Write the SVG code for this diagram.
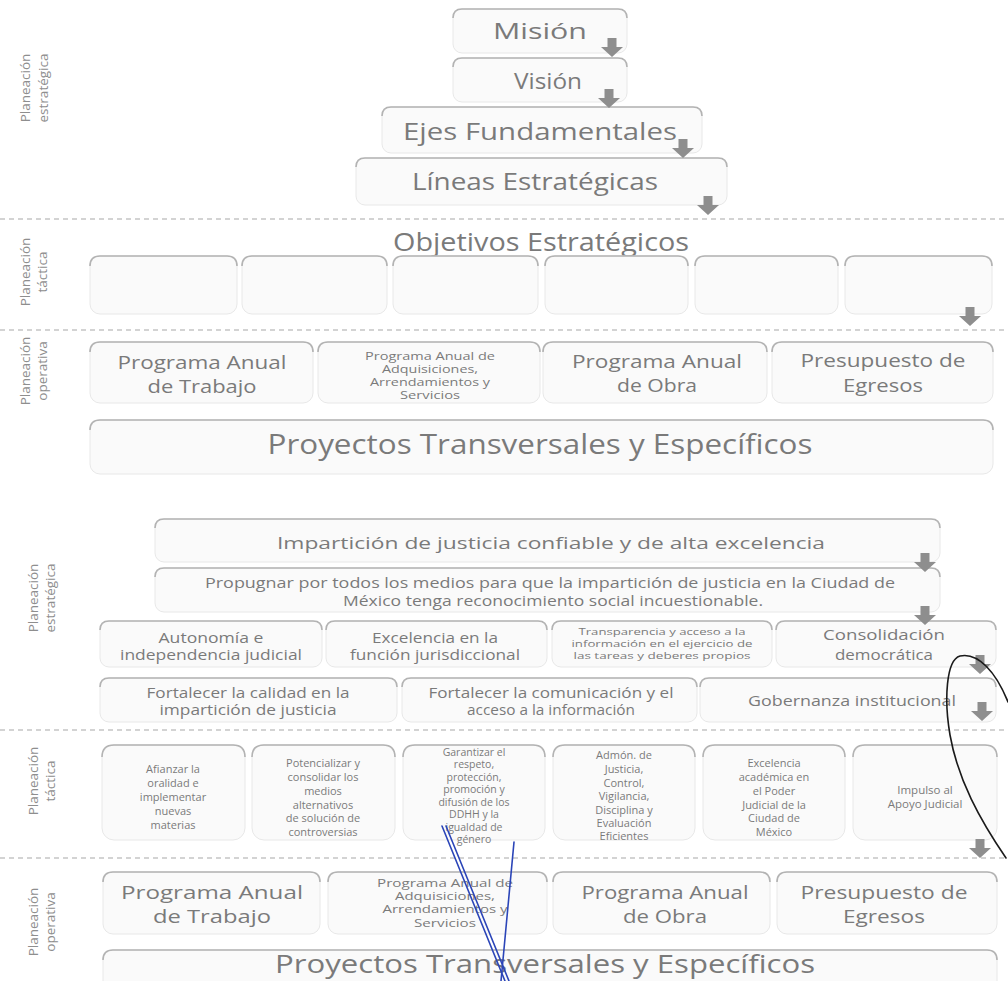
<svg xmlns="http://www.w3.org/2000/svg" xmlns:xlink="http://www.w3.org/1999/xlink" width="1008" height="981" viewBox="0 0 1008 981">
<style>
.bg{fill:#ffffff}
.box{fill:#fafafa;stroke:#e8e8e8;stroke-width:1}
.top{fill:none;stroke:#b3b3b3;stroke-width:1.6}
.t{font-family:"Open Sans","Liberation Sans",sans-serif;fill:#7a7a7a;text-anchor:middle}
.side{font-family:"Open Sans","Liberation Sans",sans-serif;fill:#8e8e8e;text-anchor:middle;font-size:13.5px}
.dash{stroke:#a8a8a8;stroke-width:1.2;stroke-dasharray:5 4;fill:none}
.arrow{fill:#8e8e8e}
.pen-k{fill:none;stroke:#1a1a1a;stroke-width:1.6;stroke-linecap:round}
.pen-b{fill:none;stroke:#2b45b8;stroke-width:1.6;stroke-linecap:round}
</style>
<defs>
<path id="ar" d="M-4.5,0 H4.5 V9 H11 L0,19 L-11,9 H-4.5 Z"/>
</defs>
<rect class="bg" x="0" y="0" width="1008" height="981"/>

<g id="side-labels">
<text class="side" transform="translate(30,88) rotate(-90)" font-size="14.5">Planeación</text>
<text class="side" transform="translate(48,88) rotate(-90)" font-size="14.5">estratégica</text>
<text class="side" transform="translate(30,272) rotate(-90)">Planeación</text>
<text class="side" transform="translate(47,272) rotate(-90)">táctica</text>
<text class="side" transform="translate(30,371) rotate(-90)">Planeación</text>
<text class="side" transform="translate(47,371) rotate(-90)">operativa</text>
<text class="side" transform="translate(38,598) rotate(-90)">Planeación</text>
<text class="side" transform="translate(55,598) rotate(-90)">estratégica</text>
<text class="side" transform="translate(38,781) rotate(-90)">Planeación</text>
<text class="side" transform="translate(55,781) rotate(-90)">táctica</text>
<text class="side" transform="translate(38,922) rotate(-90)">Planeación</text>
<text class="side" transform="translate(55,922) rotate(-90)">operativa</text>
</g>

<g id="separators">
<line class="dash" x1="0" y1="219" x2="1008" y2="219"/>
<line class="dash" x1="0" y1="330" x2="1008" y2="330"/>
<line class="dash" x1="0" y1="730" x2="1008" y2="730"/>
<line class="dash" x1="0" y1="858" x2="1008" y2="858"/>
</g>

<!-- Top section: strategic -->
<g id="mision">
<rect class="box" x="453" y="9" width="174" height="44" rx="9"/>
<path class="top" d="M453,18 Q453,9 462,9 H618 Q627,9 627,18"/>
<text class="t" x="540" y="39" font-size="22" textLength="94" lengthAdjust="spacingAndGlyphs">Misión</text>
</g>
<g id="vision">
<rect class="box" x="453" y="58" width="174" height="44" rx="9"/>
<path class="top" d="M453,67 Q453,58 462,58 H618 Q627,58 627,67"/>
<text class="t" x="548" y="89" font-size="22" textLength="68" lengthAdjust="spacingAndGlyphs">Visión</text>
</g>
<g id="ejes">
<rect class="box" x="382" y="107" width="320" height="46" rx="9"/>
<path class="top" d="M382,116 Q382,107 391,107 H693 Q702,107 702,116"/>
<text class="t" x="540" y="140" font-size="24" textLength="274" lengthAdjust="spacingAndGlyphs">Ejes Fundamentales</text>
</g>
<g id="lineas">
<rect class="box" x="356" y="158" width="371" height="47" rx="9"/>
<path class="top" d="M356,167 Q356,158 365,158 H718 Q727,158 727,167"/>
<text class="t" x="535" y="190" font-size="23" textLength="246" lengthAdjust="spacingAndGlyphs">Líneas Estratégicas</text>
</g>

<!-- Top section: tactical -->
<g id="objetivos-title">
<text class="t" x="541" y="251" font-size="25" textLength="296" lengthAdjust="spacingAndGlyphs">Objetivos Estratégicos</text>
</g>
<g id="obj1"><rect class="box" x="90" y="256" width="147" height="58" rx="10"/><path class="top" d="M90,266 Q90,256 100,256 H227 Q237,256 237,266"/></g>
<g id="obj2"><rect class="box" x="242" y="256" width="145" height="58" rx="10"/><path class="top" d="M242,266 Q242,256 252,256 H377 Q387,256 387,266"/></g>
<g id="obj3"><rect class="box" x="393" y="256" width="145" height="58" rx="10"/><path class="top" d="M393,266 Q393,256 403,256 H528 Q538,256 538,266"/></g>
<g id="obj4"><rect class="box" x="545" y="256" width="143" height="58" rx="10"/><path class="top" d="M545,266 Q545,256 555,256 H678 Q688,256 688,266"/></g>
<g id="obj5"><rect class="box" x="695" y="256" width="143" height="58" rx="10"/><path class="top" d="M695,266 Q695,256 705,256 H828 Q838,256 838,266"/></g>
<g id="obj6"><rect class="box" x="845" y="256" width="147" height="58" rx="10"/><path class="top" d="M845,266 Q845,256 855,256 H982 Q992,256 992,266"/></g>

<!-- Top section: operative -->
<g id="pat1">
<rect class="box" x="90" y="342" width="223" height="61" rx="10"/>
<path class="top" d="M90,352 Q90,342 100,342 H303 Q313,342 313,352"/>
<text class="t" x="202" y="369" font-size="18.5" textLength="169" lengthAdjust="spacingAndGlyphs">Programa Anual</text>
<text class="t" x="202" y="393" font-size="18.5" textLength="109" lengthAdjust="spacingAndGlyphs">de Trabajo</text>
</g>
<g id="paa1">
<rect class="box" x="318" y="342" width="222" height="61" rx="10"/>
<path class="top" d="M318,352 Q318,342 328,342 H530 Q540,342 540,352"/>
<text class="t" x="430" y="360" font-size="10.5" textLength="130" lengthAdjust="spacingAndGlyphs">Programa Anual de</text>
<text class="t" x="430" y="373" font-size="10.5" textLength="96" lengthAdjust="spacingAndGlyphs">Adquisiciones,</text>
<text class="t" x="430" y="386" font-size="10.5" textLength="120" lengthAdjust="spacingAndGlyphs">Arrendamientos y</text>
<text class="t" x="430" y="399" font-size="10.5" textLength="60" lengthAdjust="spacingAndGlyphs">Servicios</text>
</g>
<g id="pao1">
<rect class="box" x="543" y="342" width="224" height="61" rx="10"/>
<path class="top" d="M543,352 Q543,342 553,342 H757 Q767,342 767,352"/>
<text class="t" x="657" y="368" font-size="18.5" textLength="170" lengthAdjust="spacingAndGlyphs">Programa Anual</text>
<text class="t" x="657" y="392" font-size="18.5" textLength="80" lengthAdjust="spacingAndGlyphs">de Obra</text>
</g>
<g id="pe1">
<rect class="box" x="772" y="342" width="221" height="61" rx="10"/>
<path class="top" d="M772,352 Q772,342 782,342 H983 Q993,342 993,352"/>
<text class="t" x="883" y="367" font-size="18.5" textLength="165" lengthAdjust="spacingAndGlyphs">Presupuesto de</text>
<text class="t" x="883" y="392" font-size="18.5" textLength="80" lengthAdjust="spacingAndGlyphs">Egresos</text>
</g>
<g id="proyectos1">
<rect class="box" x="90" y="420" width="903" height="54" rx="10"/>
<path class="top" d="M90,430 Q90,420 100,420 H983 Q993,420 993,430"/>
<text class="t" x="540" y="454" font-size="27" textLength="545" lengthAdjust="spacingAndGlyphs">Proyectos Transversales y Específicos</text>
</g>

<!-- Bottom section: strategic -->
<g id="mision2">
<rect class="box" x="155" y="519" width="785" height="43" rx="9"/>
<path class="top" d="M155,528 Q155,519 164,519 H931 Q940,519 940,528"/>
<text class="t" x="551" y="549" font-size="17" textLength="548" lengthAdjust="spacingAndGlyphs">Impartición de justicia confiable y de alta excelencia</text>
</g>
<g id="vision2">
<rect class="box" x="155" y="568" width="785" height="44" rx="9"/>
<path class="top" d="M155,577 Q155,568 164,568 H931 Q940,568 940,577"/>
<text class="t" x="550" y="588" font-size="14" textLength="690" lengthAdjust="spacingAndGlyphs">Propugnar por todos los medios para que la impartición de justicia en la Ciudad de</text>
<text class="t" x="553" y="606" font-size="14" textLength="420" lengthAdjust="spacingAndGlyphs">México tenga reconocimiento social incuestionable.</text>
</g>
<g id="eje1">
<rect class="box" x="100" y="621" width="222" height="46" rx="9"/>
<path class="top" d="M100,630 Q100,621 109,621 H313 Q322,621 322,630"/>
<text class="t" x="211" y="643" font-size="14" textLength="105" lengthAdjust="spacingAndGlyphs">Autonomía e</text>
<text class="t" x="211" y="660" font-size="14" textLength="182" lengthAdjust="spacingAndGlyphs">independencia judicial</text>
</g>
<g id="eje2">
<rect class="box" x="326" y="621" width="221" height="46" rx="9"/>
<path class="top" d="M326,630 Q326,621 335,621 H538 Q547,621 547,630"/>
<text class="t" x="435" y="643" font-size="14" textLength="126" lengthAdjust="spacingAndGlyphs">Excelencia en la</text>
<text class="t" x="435" y="660" font-size="14" textLength="170" lengthAdjust="spacingAndGlyphs">función jurisdiccional</text>
</g>
<g id="eje3">
<rect class="box" x="552" y="621" width="220" height="46" rx="9"/>
<path class="top" d="M552,630 Q552,621 561,621 H763 Q772,621 772,630"/>
<text class="t" x="662" y="635" font-size="9.5" textLength="167" lengthAdjust="spacingAndGlyphs">Transparencia y acceso a la</text>
<text class="t" x="662" y="647" font-size="9.5" textLength="181" lengthAdjust="spacingAndGlyphs">información en el ejercicio de</text>
<text class="t" x="662" y="659" font-size="9.5" textLength="177" lengthAdjust="spacingAndGlyphs">las tareas y deberes propios</text>
</g>
<g id="eje4">
<rect class="box" x="776" y="621" width="220" height="46" rx="9"/>
<path class="top" d="M776,630 Q776,621 785,621 H987 Q996,621 996,630"/>
<text class="t" x="884" y="640" font-size="15" textLength="122" lengthAdjust="spacingAndGlyphs">Consolidación</text>
<text class="t" x="884" y="660" font-size="15" textLength="98" lengthAdjust="spacingAndGlyphs">democrática</text>
</g>
<g id="linea1">
<rect class="box" x="100" y="678" width="297" height="44" rx="9"/>
<path class="top" d="M100,687 Q100,678 109,678 H388 Q397,678 397,687"/>
<text class="t" x="248" y="698" font-size="14.5" textLength="203" lengthAdjust="spacingAndGlyphs">Fortalecer la calidad en la</text>
<text class="t" x="248" y="715" font-size="14.5" textLength="177" lengthAdjust="spacingAndGlyphs">impartición de justicia</text>
</g>
<g id="linea2">
<rect class="box" x="402" y="678" width="295" height="44" rx="9"/>
<path class="top" d="M402,687 Q402,678 411,678 H688 Q697,678 697,687"/>
<text class="t" x="551" y="698" font-size="14.5" textLength="245" lengthAdjust="spacingAndGlyphs">Fortalecer la comunicación y el</text>
<text class="t" x="551" y="715" font-size="14.5" textLength="168" lengthAdjust="spacingAndGlyphs">acceso a la información</text>
</g>
<g id="linea3">
<rect class="box" x="700" y="678" width="296" height="44" rx="9"/>
<path class="top" d="M700,687 Q700,678 709,678 H987 Q996,678 996,687"/>
<text class="t" x="852" y="706" font-size="15" textLength="208" lengthAdjust="spacingAndGlyphs">Gobernanza institucional</text>
</g>

<!-- Bottom section: tactical -->
<g id="obj-b1">
<rect class="box" x="102" y="745" width="143" height="95" rx="12"/>
<path class="top" d="M102,757 Q102,745 114,745 H233 Q245,745 245,757"/>
<text class="t" font-size="11"><tspan x="173" y="773">Afianzar la</tspan><tspan x="173" y="787">oralidad e</tspan><tspan x="173" y="801">implementar</tspan><tspan x="173" y="815">nuevas</tspan><tspan x="173" y="829">materias</tspan></text>
</g>
<g id="obj-b2">
<rect class="box" x="252" y="745" width="143" height="95" rx="12"/>
<path class="top" d="M252,757 Q252,745 264,745 H383 Q395,745 395,757"/>
<text class="t" font-size="11"><tspan x="323" y="767">Potencializar y</tspan><tspan x="323" y="781">consolidar los</tspan><tspan x="323" y="795">medios</tspan><tspan x="323" y="809">alternativos</tspan><tspan x="323" y="822">de solución de</tspan><tspan x="323" y="836">controversias</tspan></text>
</g>
<g id="obj-b3">
<rect class="box" x="403" y="745" width="142" height="95" rx="12"/>
<path class="top" d="M403,757 Q403,745 415,745 H533 Q545,745 545,757"/>
<text class="t" font-size="10.5"><tspan x="474" y="756">Garantizar el</tspan><tspan x="474" y="768">respeto,</tspan><tspan x="474" y="781">protección,</tspan><tspan x="474" y="793">promoción y</tspan><tspan x="474" y="806">difusión de los</tspan><tspan x="474" y="818">DDHH y la</tspan><tspan x="474" y="831">igualdad de</tspan><tspan x="474" y="843">género</tspan></text>
</g>
<g id="obj-b4">
<rect class="box" x="553" y="745" width="142" height="95" rx="12"/>
<path class="top" d="M553,757 Q553,745 565,745 H683 Q695,745 695,757"/>
<text class="t" font-size="11"><tspan x="624" y="759">Admón. de</tspan><tspan x="624" y="773">Justicia,</tspan><tspan x="624" y="787">Control,</tspan><tspan x="624" y="800">Vigilancia,</tspan><tspan x="624" y="814">Disciplina y</tspan><tspan x="624" y="827">Evaluación</tspan><tspan x="624" y="840">Eficientes</tspan></text>
</g>
<g id="obj-b5">
<rect class="box" x="703" y="745" width="142" height="95" rx="12"/>
<path class="top" d="M703,757 Q703,745 715,745 H833 Q845,745 845,757"/>
<text class="t" font-size="11"><tspan x="774" y="767">Excelencia</tspan><tspan x="774" y="781">académica en</tspan><tspan x="774" y="795">el Poder</tspan><tspan x="774" y="809">Judicial de la</tspan><tspan x="774" y="822">Ciudad de</tspan><tspan x="774" y="836">México</tspan></text>
</g>
<g id="obj-b6">
<rect class="box" x="853" y="745" width="144" height="95" rx="12"/>
<path class="top" d="M853,757 Q853,745 865,745 H985 Q997,745 997,757"/>
<text class="t" font-size="11.5"><tspan x="925" y="794">Impulso al</tspan><tspan x="925" y="808">Apoyo Judicial</tspan></text>
</g>

<!-- Bottom section: operative -->
<g id="pat2">
<rect class="box" x="103" y="872" width="217" height="62" rx="10"/>
<path class="top" d="M103,882 Q103,872 113,872 H310 Q320,872 320,882"/>
<text class="t" x="212" y="899" font-size="19" textLength="182" lengthAdjust="spacingAndGlyphs">Programa Anual</text>
<text class="t" x="212" y="923" font-size="19" textLength="118" lengthAdjust="spacingAndGlyphs">de Trabajo</text>
</g>
<g id="paa2">
<rect class="box" x="328" y="872" width="219" height="62" rx="10"/>
<path class="top" d="M328,882 Q328,872 338,872 H537 Q547,872 547,882"/>
<text class="t" x="445" y="887" font-size="11" textLength="136" lengthAdjust="spacingAndGlyphs">Programa Anual de</text>
<text class="t" x="445" y="900" font-size="11" textLength="100" lengthAdjust="spacingAndGlyphs">Adquisiciones,</text>
<text class="t" x="445" y="913" font-size="11" textLength="125" lengthAdjust="spacingAndGlyphs">Arrendamientos y</text>
<text class="t" x="445" y="927" font-size="11" textLength="62" lengthAdjust="spacingAndGlyphs">Servicios</text>
</g>
<g id="pao2">
<rect class="box" x="553" y="872" width="217" height="62" rx="10"/>
<path class="top" d="M553,882 Q553,872 563,872 H760 Q770,872 770,882"/>
<text class="t" x="665" y="899" font-size="19" textLength="167" lengthAdjust="spacingAndGlyphs">Programa Anual</text>
<text class="t" x="665" y="923" font-size="19" textLength="84" lengthAdjust="spacingAndGlyphs">de Obra</text>
</g>
<g id="pe2">
<rect class="box" x="777" y="872" width="220" height="62" rx="10"/>
<path class="top" d="M777,882 Q777,872 787,872 H987 Q997,872 997,882"/>
<text class="t" x="884" y="899" font-size="19" textLength="167" lengthAdjust="spacingAndGlyphs">Presupuesto de</text>
<text class="t" x="884" y="923" font-size="19" textLength="82" lengthAdjust="spacingAndGlyphs">Egresos</text>
</g>
<g id="proyectos2">
<rect class="box" x="103" y="950" width="894" height="50" rx="10"/>
<path class="top" d="M103,960 Q103,950 113,950 H987 Q997,950 997,960"/>
<text class="t" x="545" y="973" font-size="26" textLength="540" lengthAdjust="spacingAndGlyphs">Proyectos Transversales y Específicos</text>
</g>

<g id="connectors" class="arrow">
<use xlink:href="#ar" transform="translate(612,38)"/>
<use xlink:href="#ar" transform="translate(609,89)"/>
<use xlink:href="#ar" transform="translate(683,139)"/>
<use xlink:href="#ar" transform="translate(708,196)"/>
<use xlink:href="#ar" transform="translate(970,307)"/>
<use xlink:href="#ar" transform="translate(925,553)"/>
<use xlink:href="#ar" transform="translate(925,606)"/>
<use xlink:href="#ar" transform="translate(980,655)"/>
<use xlink:href="#ar" transform="translate(982,702)"/>
<use xlink:href="#ar" transform="translate(980,839)"/>
</g>

<g id="annotations">
<path class="pen-k" d="M1008,702 C996,672 978,652 960,656 C946,660 944,700 950,735 C958,780 980,820 1006,858"/>
<path class="pen-b" d="M442,826 L505,981"/>
<path class="pen-b" d="M446,826 L509,981"/>
<path class="pen-b" d="M514,842 L501,981" stroke-width="1.1"/>
</g>
</svg>
